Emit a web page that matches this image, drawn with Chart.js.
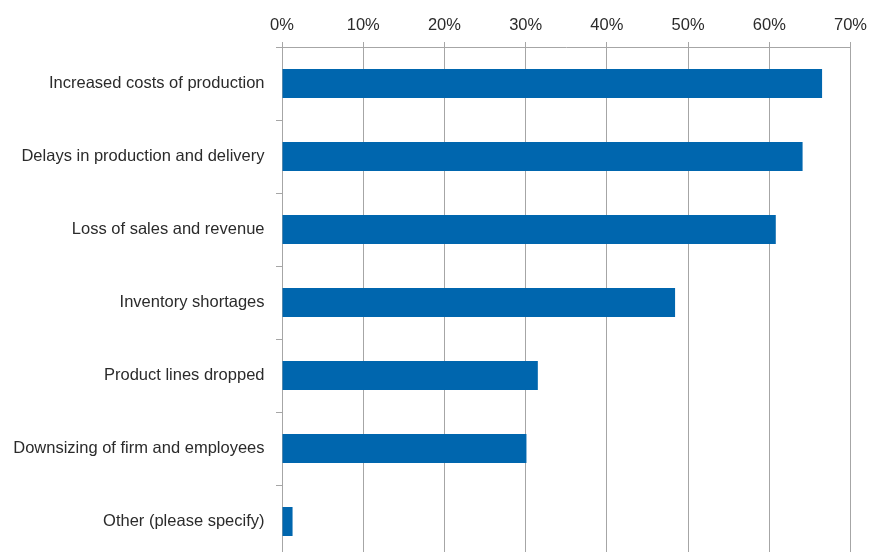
<!DOCTYPE html>
<html>
<head>
<meta charset="utf-8">
<script src="https://cdn.jsdelivr.net/npm/chart.js@4/dist/chart.umd.min.js"></script>
<style>
    html, body { margin: 0; padding: 0; background: #fff; overflow: hidden; }
    #grafico-impacto { display: block; }
</style>
</head>
<body>
<canvas id="grafico-impacto" width="869" height="558"></canvas>
<script>
const categories = [
    'Increased costs of production',
    'Delays in production and delivery',
    'Loss of sales and revenue',
    'Inventory shortages',
    'Product lines dropped',
    'Downsizing of firm and employees',
    'Other (please specify)'
]
const shares = [66.5, 64.1, 60.8, 48.4, 31.5, 30.1, 1.3]
const tickValues = [0, 10, 20, 30, 40, 50, 60, 70]

const GRID = '#a6a6a6'
const TEXT = '#2b2b2b'
const FONT = { family: '"Liberation Sans", Arial, sans-serif', size: 16.5 }

// the scales add label padding to the chart area edges, drop it so the layout padding decides
const noEdgePadding = (scale) => {
    scale.paddingTop = 0
    scale.paddingBottom = 0
    scale.paddingLeft = 0
    scale.paddingRight = 0
}

const ctx = document.getElementById('grafico-impacto')
new Chart(ctx, {
    type: 'bar',
    data: {
        labels: categories,
        datasets: [{
            data: shares,
            backgroundColor: '#0066ae',
            borderWidth: 0,
            barPercentage: 0.4,
            categoryPercentage: 1.0
        }]
    },
    options: {
        indexAxis: 'y',
        responsive: false,
        animation: false,
        layout: { padding: { left: 0, right: 18.5, top: 0, bottom: 0 } },
        plugins: {
            legend: { display: false },
            tooltip: { enabled: false }
        },
        scales: {
            x: {
                position: 'top',
                min: tickValues[0],
                max: tickValues[tickValues.length - 1],
                afterBuildTicks: (scale) => { scale.ticks = tickValues.map(v => ({ value: v })) },
                afterFit: (scale) => {
                    scale.height = 47
                    noEdgePadding(scale)
                },
                grid: { color: GRID, lineWidth: 1, tickLength: 5, tickColor: GRID },
                border: { color: GRID, width: 1 },
                ticks: {
                    color: TEXT,
                    font: FONT,
                    padding: 7,
                    maxRotation: 0,
                    callback: (v) => v + '%'
                }
            },
            y: {
                afterFit: (scale) => {
                    scale.width = 282
                    noEdgePadding(scale)
                },
                grid: {
                    offset: true,
                    drawOnChartArea: false,
                    tickLength: 6,
                    color: GRID,
                    tickColor: GRID
                },
                border: { color: GRID, width: 1 },
                ticks: {
                    color: TEXT,
                    font: FONT,
                    padding: 11.5,
                    autoSkip: false
                }
            }
        }
    }
})
</script>
</body>
</html>
